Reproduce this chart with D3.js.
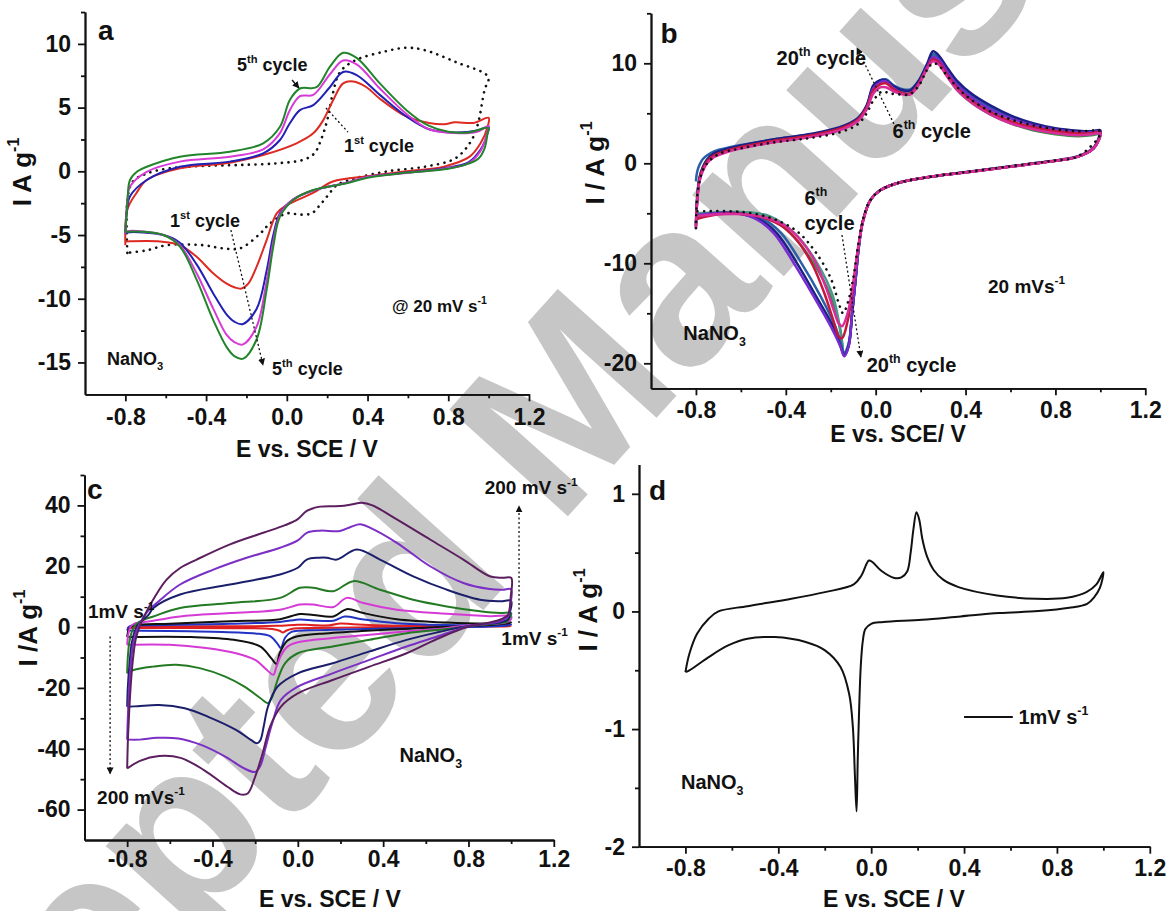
<!DOCTYPE html>
<html lang="en">
<head>
<meta charset="utf-8">
<title>CV NaNO3</title>
<script src="https://d3js.org/d3.v7.min.js"></script>
<style>
  body { margin: 0; background: #fff; }
  svg { display: block; font-family: "Liberation Sans", Arial, Helvetica, sans-serif; font-weight: bold; }
</style>
</head>
<body>
<svg id="fig" width="1167" height="911"></svg>
<script>
// ---------- data: [E (V vs SCE), I (A/g)] ----------

// panel a, cycles 1..5 at 20 mV/s
const a_cycle1 = [[-0.79,-6.4],[-0.79,-2.25],[-0.763,-0.8],[-0.69,-0.15],[-0.58,0.24],[-0.415,0.42],[-0.23,0.5],[-0.048,0.63],[0.08,0.9],[0.136,1.4],[0.17,2.5],[0.2,4.0],[0.228,6.1],[0.264,7.8],[0.338,8.7],[0.484,9.4],[0.594,9.7],[0.686,9.5],[0.833,8.6],[0.998,7.4],[0.98,6.4],[0.943,3.5],[0.906,2.2],[0.833,1.0],[0.686,0.37],[0.5,0.0],[0.338,-0.55],[0.247,-1.1],[0.205,-1.86],[0.164,-2.65],[0.123,-3.3],[0.065,-3.4],[0.0,-3.3],[-0.084,-4.1],[-0.133,-4.9],[-0.232,-6.05],[-0.315,-6.05],[-0.415,-5.8],[-0.595,-5.8],[-0.694,-6.2],[-0.79,-6.4]];
const a_cycle2 = [[-0.8,-5.8],[-0.79,-3.0],[-0.745,-1.7],[-0.694,-0.68],[-0.53,0.23],[-0.282,0.68],[-0.117,1.28],[0.048,2.2],[0.131,2.98],[0.18,4.0],[0.23,5.6],[0.279,6.9],[0.329,7.05],[0.395,6.6],[0.461,5.7],[0.593,4.3],[0.705,3.8],[0.78,3.7],[0.833,3.85],[0.925,3.8],[1.0,4.2],[0.995,3.5],[0.96,2.2],[0.906,1.15],[0.778,0.37],[0.594,0.0],[0.411,-0.37],[0.228,-0.8],[0.13,-1.7],[0.0,-2.65],[-0.05,-3.3],[-0.1,-5.4],[-0.15,-7.5],[-0.19,-8.8],[-0.224,-9.2],[-0.26,-9.1],[-0.3,-8.8],[-0.365,-8.0],[-0.447,-6.7],[-0.53,-5.8],[-0.629,-5.5],[-0.8,-5.5]];
const a_cycle3 = [[-0.8,-4.9],[-0.79,-2.8],[-0.777,-1.96],[-0.694,-0.68],[-0.53,0.36],[-0.282,0.76],[-0.117,1.41],[-0.034,2.46],[0.015,3.77],[0.065,4.8],[0.131,5.2],[0.213,6.6],[0.279,7.8],[0.346,7.55],[0.461,6.0],[0.593,4.3],[0.705,3.3],[0.833,3.05],[0.943,3.2],[1.0,3.5],[0.995,3.0],[0.96,1.7],[0.9,0.7],[0.778,0.25],[0.594,-0.1],[0.4,-0.45],[0.296,-0.9],[0.13,-1.5],[0.032,-2.2],[-0.034,-3.3],[-0.067,-5.0],[-0.1,-7.8],[-0.15,-10.8],[-0.22,-12.0],[-0.26,-11.8],[-0.3,-11.2],[-0.364,-9.6],[-0.447,-7.3],[-0.53,-5.6],[-0.612,-5.0],[-0.79,-4.8],[-0.8,-4.9]];
const a_cycle4 = [[-0.8,-4.9],[-0.79,-2.25],[-0.777,-1.2],[-0.694,-0.04],[-0.53,0.76],[-0.282,1.15],[-0.117,1.73],[-0.034,3.0],[0.015,4.8],[0.065,5.9],[0.131,6.0],[0.213,7.6],[0.279,8.7],[0.346,8.4],[0.461,6.5],[0.593,4.5],[0.705,3.3],[0.833,3.0],[0.943,3.1],[1.0,3.55],[0.995,3.1],[0.96,1.6],[0.9,0.63],[0.778,0.2],[0.594,-0.13],[0.4,-0.45],[0.296,-0.9],[0.13,-1.5],[0.032,-2.2],[-0.034,-3.4],[-0.067,-5.5],[-0.1,-8.6],[-0.15,-12.2],[-0.22,-13.6],[-0.26,-13.4],[-0.3,-12.8],[-0.364,-10.8],[-0.447,-8.0],[-0.53,-5.8],[-0.612,-5.0],[-0.79,-4.7],[-0.8,-4.8]];
const a_cycle5 = [[-0.8,-4.8],[-0.79,-2.5],[-0.777,-0.68],[-0.74,0.0],[-0.694,0.36],[-0.53,1.15],[-0.282,1.54],[-0.117,2.2],[-0.034,3.5],[0.015,5.6],[0.065,6.5],[0.147,6.6],[0.213,8.2],[0.279,9.3],[0.346,8.9],[0.461,6.9],[0.593,4.8],[0.7,3.6],[0.8,3.1],[0.9,3.05],[1.0,3.4],[0.995,3.0],[0.98,1.8],[0.95,1.0],[0.9,0.6],[0.8,0.2],[0.6,-0.1],[0.4,-0.5],[0.296,-0.94],[0.13,-1.47],[0.032,-2.25],[-0.034,-3.56],[-0.067,-5.9],[-0.1,-9.3],[-0.15,-13.2],[-0.216,-14.7],[-0.26,-14.5],[-0.298,-13.8],[-0.364,-11.7],[-0.447,-8.5],[-0.53,-5.9],[-0.612,-5.0],[-0.79,-4.74],[-0.8,-4.8]];

// panel b, cycles 6..20 at 20 mV/s
const b_cycle6 = [[-0.8,-6.5],[-0.795,-4.0],[-0.785,-1.9],[-0.77,-0.8],[-0.75,0.0],[-0.72,0.6],[-0.65,1.2],[-0.55,1.7],[-0.45,2.1],[-0.3,2.6],[-0.16,3.3],[-0.08,4.2],[-0.04,5.4],[-0.01,7.0],[0.02,7.6],[0.045,7.6],[0.08,7.2],[0.12,6.9],[0.155,6.9],[0.19,7.8],[0.23,9.5],[0.255,10.2],[0.28,9.9],[0.32,8.6],[0.36,7.4],[0.43,6.0],[0.51,4.9],[0.6,4.0],[0.7,3.4],[0.8,3.0],[0.9,2.8],[0.96,2.9],[1.0,3.0],[0.995,2.4],[0.97,1.5],[0.9,0.65],[0.77,0.15],[0.6,-0.35],[0.43,-0.85],[0.29,-1.2],[0.11,-1.9],[0.02,-2.7],[-0.024,-3.7],[-0.056,-5.8],[-0.08,-8.8],[-0.1,-12.0],[-0.125,-15.0],[-0.15,-16.3],[-0.165,-16.0],[-0.185,-14.8],[-0.22,-12.5],[-0.27,-9.8],[-0.33,-7.8],[-0.4,-6.3],[-0.48,-5.5],[-0.58,-5.1],[-0.7,-5.1],[-0.8,-5.3]];
const b_cycle8 = [[-0.8,-6.3],[-0.795,-3.8],[-0.785,-1.7],[-0.77,-0.6],[-0.75,0.2],[-0.72,0.8],[-0.65,1.35],[-0.55,1.85],[-0.45,2.25],[-0.3,2.75],[-0.16,3.45],[-0.08,4.35],[-0.04,5.6],[-0.01,7.3],[0.02,7.9],[0.045,8.0],[0.08,7.4],[0.12,7.0],[0.155,7.0],[0.19,7.9],[0.23,9.6],[0.255,10.4],[0.28,10.1],[0.32,8.8],[0.36,7.6],[0.43,6.2],[0.51,5.1],[0.6,4.2],[0.7,3.6],[0.8,3.2],[0.9,3.0],[0.96,3.0],[1.0,3.1],[0.995,2.5],[0.97,1.5],[0.9,0.67],[0.77,0.17],[0.6,-0.33],[0.43,-0.83],[0.29,-1.2],[0.11,-1.9],[0.02,-2.7],[-0.024,-3.7],[-0.056,-5.7],[-0.08,-8.7],[-0.1,-12.2],[-0.125,-15.8],[-0.15,-17.5],[-0.165,-17.3],[-0.19,-15.6],[-0.23,-12.9],[-0.28,-10.2],[-0.34,-8.0],[-0.41,-6.4],[-0.49,-5.5],[-0.58,-5.1],[-0.7,-5.1],[-0.8,-5.6]];
const b_cycle11 = [[-0.8,-6.2],[-0.795,-3.7],[-0.785,-1.6],[-0.77,-0.5],[-0.75,0.3],[-0.72,0.9],[-0.65,1.4],[-0.55,1.9],[-0.45,2.3],[-0.3,2.8],[-0.16,3.5],[-0.08,4.4],[-0.04,5.7],[-0.01,7.7],[0.02,8.2],[0.045,8.2],[0.08,7.6],[0.12,7.2],[0.155,7.2],[0.19,8.0],[0.23,9.7],[0.255,10.7],[0.28,10.4],[0.32,9.0],[0.36,7.7],[0.43,6.3],[0.51,5.2],[0.6,4.2],[0.7,3.5],[0.8,3.05],[0.9,2.85],[0.96,2.9],[1.0,3.0],[0.995,2.5],[0.97,1.5],[0.9,0.67],[0.77,0.17],[0.6,-0.33],[0.43,-0.83],[0.29,-1.2],[0.11,-1.9],[0.02,-2.7],[-0.024,-3.7],[-0.056,-5.7],[-0.075,-8.3],[-0.09,-11.7],[-0.105,-15.0],[-0.12,-18.0],[-0.14,-19.0],[-0.155,-17.0],[-0.19,-13.3],[-0.26,-10.0],[-0.36,-7.0],[-0.47,-5.3],[-0.58,-4.9],[-0.7,-4.9],[-0.8,-5.0]];
const b_cycle14 = [[-0.8,-6.4],[-0.795,-3.9],[-0.785,-1.8],[-0.77,-0.7],[-0.75,0.1],[-0.72,0.7],[-0.65,1.3],[-0.55,1.8],[-0.45,2.2],[-0.3,2.7],[-0.16,3.4],[-0.08,4.3],[-0.04,5.6],[-0.01,7.6],[0.02,8.2],[0.045,8.3],[0.08,7.6],[0.12,7.1],[0.155,7.1],[0.19,7.9],[0.23,9.6],[0.255,10.5],[0.28,10.2],[0.32,8.7],[0.36,7.4],[0.43,6.0],[0.51,4.9],[0.6,4.0],[0.7,3.3],[0.8,2.9],[0.9,2.7],[0.96,2.8],[1.0,2.9],[0.995,2.4],[0.97,1.5],[0.9,0.67],[0.77,0.17],[0.6,-0.33],[0.43,-0.83],[0.29,-1.2],[0.11,-1.9],[0.02,-2.7],[-0.024,-3.7],[-0.056,-5.7],[-0.075,-8.3],[-0.09,-11.7],[-0.105,-15.0],[-0.12,-18.2],[-0.14,-19.2],[-0.157,-16.7],[-0.2,-13.3],[-0.276,-10.0],[-0.379,-7.0],[-0.483,-5.3],[-0.58,-4.9],[-0.7,-5.0],[-0.8,-5.5]];
const b_cycle17 = [[-0.8,-1.8],[-0.795,-0.9],[-0.785,-0.2],[-0.77,0.4],[-0.75,0.8],[-0.72,1.2],[-0.65,1.6],[-0.55,2.0],[-0.45,2.4],[-0.3,2.85],[-0.16,3.5],[-0.08,4.4],[-0.04,5.7],[-0.01,7.7],[0.02,8.3],[0.045,8.4],[0.08,7.8],[0.12,7.4],[0.155,7.4],[0.19,8.2],[0.23,9.9],[0.255,10.9],[0.28,10.6],[0.32,9.3],[0.36,8.1],[0.43,6.7],[0.51,5.6],[0.6,4.6],[0.7,3.9],[0.8,3.4],[0.9,3.15],[0.96,3.1],[1.0,3.2],[0.995,2.6],[0.97,1.5],[0.9,0.67],[0.77,0.17],[0.6,-0.33],[0.43,-0.83],[0.29,-1.2],[0.11,-1.9],[0.02,-2.7],[-0.024,-3.7],[-0.056,-5.7],[-0.075,-8.3],[-0.09,-11.7],[-0.105,-15.0],[-0.12,-18.0],[-0.14,-19.0],[-0.155,-18.0],[-0.18,-16.3],[-0.245,-13.3],[-0.33,-10.0],[-0.42,-7.0],[-0.5,-5.6],[-0.6,-5.0],[-0.72,-5.0],[-0.8,-5.2]];
const b_cycle19 = [[-0.8,-6.5],[-0.795,-4.0],[-0.785,-1.8],[-0.77,-0.7],[-0.75,0.1],[-0.72,0.7],[-0.65,1.3],[-0.55,1.8],[-0.45,2.2],[-0.3,2.7],[-0.16,3.4],[-0.08,4.3],[-0.04,5.6],[-0.01,7.5],[0.02,8.1],[0.045,8.2],[0.08,7.5],[0.12,7.0],[0.155,7.0],[0.19,7.9],[0.23,9.7],[0.255,10.6],[0.28,10.4],[0.32,9.1],[0.36,7.9],[0.43,6.5],[0.51,5.4],[0.6,4.5],[0.7,3.8],[0.8,3.35],[0.9,3.1],[0.96,3.1],[1.0,3.2],[0.995,2.6],[0.97,1.5],[0.9,0.67],[0.77,0.17],[0.6,-0.33],[0.43,-0.83],[0.29,-1.2],[0.11,-1.9],[0.02,-2.7],[-0.024,-3.7],[-0.056,-5.7],[-0.075,-8.3],[-0.09,-11.7],[-0.105,-15.0],[-0.12,-18.3],[-0.14,-19.3],[-0.157,-18.3],[-0.2,-16.3],[-0.276,-13.3],[-0.364,-10.0],[-0.453,-7.0],[-0.53,-5.6],[-0.62,-5.0],[-0.72,-5.0],[-0.8,-5.2]];
const b_cycle20 = [[-0.8,-6.0],[-0.795,-3.5],[-0.785,-1.5],[-0.77,-0.4],[-0.75,0.4],[-0.72,1.0],[-0.65,1.5],[-0.55,2.0],[-0.45,2.4],[-0.3,2.9],[-0.16,3.6],[-0.08,4.5],[-0.04,5.8],[-0.01,7.8],[0.02,8.3],[0.045,8.3],[0.08,7.7],[0.12,7.3],[0.155,7.3],[0.19,8.2],[0.23,10.0],[0.255,11.2],[0.28,10.8],[0.32,9.5],[0.36,8.3],[0.43,6.9],[0.51,5.8],[0.6,4.8],[0.7,4.0],[0.8,3.5],[0.9,3.25],[0.96,3.2],[1.0,3.3],[0.995,2.7],[0.97,1.6],[0.9,0.7],[0.77,0.2],[0.6,-0.3],[0.43,-0.8],[0.29,-1.2],[0.11,-1.9],[0.02,-2.7],[-0.024,-3.7],[-0.056,-5.7],[-0.075,-8.3],[-0.09,-11.7],[-0.105,-15.0],[-0.12,-18.2],[-0.14,-19.2],[-0.155,-18.4],[-0.19,-16.3],[-0.265,-13.3],[-0.35,-10.0],[-0.44,-7.0],[-0.52,-5.6],[-0.62,-5.0],[-0.72,-5.0],[-0.8,-5.4]];
const b_cycle5 = [[-0.8,-6.5],[-0.79,-2.5],[-0.76,-0.3],[-0.7,0.9],[-0.6,1.5],[-0.45,2.1],[-0.3,2.5],[-0.16,3.1],[-0.08,3.9],[-0.04,5.0],[-0.01,6.3],[0.03,7.2],[0.06,7.0],[0.1,6.9],[0.15,6.9],[0.19,7.7],[0.23,9.4],[0.255,10.0],[0.28,9.8],[0.32,8.7],[0.4,6.8],[0.5,5.3],[0.6,4.4],[0.7,3.8],[0.8,3.4],[0.9,3.2],[1.0,3.2],[0.995,2.7],[0.9,0.7],[0.77,0.2],[0.6,-0.3],[0.43,-0.8],[0.29,-1.2],[0.11,-1.9],[0.02,-2.7],[-0.03,-3.9],[-0.06,-6.0],[-0.08,-8.5],[-0.1,-11.5],[-0.125,-14.0],[-0.145,-15.0],[-0.16,-14.3],[-0.2,-11.5],[-0.27,-8.8],[-0.35,-6.8],[-0.45,-5.6],[-0.55,-5.0],[-0.65,-4.8],[-0.8,-4.8]];

// panel c, scan rates 1..200 mV/s
const c_rate1 = [[-0.8,-0.3],[-0.78,0.1],[-0.5,0.25],[-0.1,0.4],[0.0,0.8],[0.06,0.7],[0.15,0.6],[0.2,1.2],[0.26,0.9],[0.4,0.5],[0.7,0.35],[1.0,0.4],[0.99,0.3],[0.8,0.2],[0.4,0.0],[0.1,-0.3],[-0.03,-0.6],[-0.055,-1.2],[-0.07,-1.8],[-0.085,-1.2],[-0.12,-0.6],[-0.3,-0.4],[-0.8,-0.3]];
const c_rate2 = [[-0.8,-1.1],[-0.79,0.2],[-0.7,0.6],[-0.318,1.1],[-0.083,1.7],[0.01,2.5],[0.073,2.2],[0.167,2.1],[0.22,3.5],[0.3,2.6],[0.464,1.3],[0.698,0.7],[0.9,0.6],[1.0,0.9],[0.99,0.6],[0.9,0.2],[0.7,-0.1],[0.4,-0.5],[0.1,-1.0],[-0.03,-1.6],[-0.06,-3.5],[-0.08,-6.9],[-0.095,-5.5],[-0.13,-3.0],[-0.2,-2.1],[-0.4,-1.5],[-0.8,-1.1]];
const c_rate5 = [[-0.8,-3.3],[-0.79,-0.5],[-0.77,0.5],[-0.6,1.1],[-0.318,1.9],[-0.083,2.6],[0.01,4.3],[0.073,4.0],[0.167,3.5],[0.229,5.9],[0.307,4.6],[0.464,2.6],[0.698,1.5],[0.9,1.2],[1.0,1.6],[0.99,1.3],[0.9,0.7],[0.7,0.1],[0.5,-0.6],[0.3,-1.3],[0.1,-2.2],[0.0,-3.0],[-0.05,-4.5],[-0.085,-8.6],[-0.1,-12.1],[-0.125,-10.2],[-0.175,-6.4],[-0.3,-4.2],[-0.5,-3.3],[-0.8,-3.3]];
const c_rate10 = [[-0.8,-5.8],[-0.795,-2.5],[-0.785,0.0],[-0.77,1.0],[-0.7,1.8],[-0.552,3.5],[-0.318,4.6],[-0.083,5.7],[0.01,7.4],[0.073,7.4],[0.167,6.6],[0.229,9.6],[0.307,7.9],[0.464,5.7],[0.698,4.4],[0.9,3.6],[1.0,3.5],[0.995,2.2],[0.97,1.4],[0.9,1.0],[0.8,0.6],[0.7,-0.3],[0.51,-1.4],[0.336,-2.5],[0.163,-3.6],[0.0,-5.0],[-0.05,-6.5],[-0.08,-9.5],[-0.1,-13.0],[-0.115,-15.7],[-0.145,-14.1],[-0.2,-10.8],[-0.29,-8.6],[-0.43,-6.9],[-0.6,-5.8],[-0.8,-5.8]];
const c_rate20 = [[-0.8,-15.2],[-0.797,-10],[-0.79,-5],[-0.778,-1.5],[-0.76,0.8],[-0.72,2.5],[-0.677,3.5],[-0.552,6.3],[-0.318,7.9],[-0.083,9.6],[0.01,12.9],[0.073,12.9],[0.167,11.8],[0.26,15.1],[0.385,12.3],[0.541,9.0],[0.698,6.8],[0.854,5.2],[0.95,4.6],[1.0,4.6],[0.995,3.2],[0.98,1.8],[0.93,1.2],[0.85,0.7],[0.7,-0.6],[0.51,-2.0],[0.336,-4.2],[0.163,-6.4],[0.0,-8.6],[-0.06,-11.9],[-0.095,-17.4],[-0.12,-22.9],[-0.14,-25.0],[-0.175,-23.4],[-0.25,-19.6],[-0.34,-16.3],[-0.46,-13.5],[-0.57,-12.4],[-0.68,-13],[-0.77,-14.1],[-0.8,-15.2]];
const c_rate50 = [[-0.8,-26.2],[-0.797,-20],[-0.79,-13],[-0.78,-6],[-0.765,-1.5],[-0.74,1.5],[-0.7,4],[-0.677,6.3],[-0.552,10.7],[-0.318,14.0],[-0.083,17.3],[0.0,19.5],[0.042,22.2],[0.1,22.8],[0.136,22.8],[0.183,22.2],[0.276,25.5],[0.385,22.2],[0.541,16.7],[0.698,12.3],[0.854,9.0],[0.95,8.5],[1.0,8.6],[0.995,5],[0.985,2.5],[0.95,1.6],[0.85,0.8],[0.8,0.4],[0.65,-1.8],[0.51,-4.2],[0.336,-8.0],[0.163,-11.9],[0.0,-15.2],[-0.095,-19.6],[-0.14,-26.2],[-0.16,-32.7],[-0.175,-37.1],[-0.19,-38.2],[-0.22,-37.1],[-0.29,-33.8],[-0.42,-29.5],[-0.53,-26.7],[-0.65,-25.6],[-0.75,-26],[-0.8,-26.2]];
const c_rate100 = [[-0.8,-37],[-0.797,-30],[-0.792,-22],[-0.785,-14],[-0.773,-6],[-0.755,-1],[-0.73,2.5],[-0.7,5.5],[-0.662,7.9],[-0.552,14.0],[-0.396,18.9],[-0.24,22.8],[-0.083,26.1],[0.0,28.5],[0.042,31.0],[0.104,31.7],[0.198,31.6],[0.25,33],[0.292,33.8],[0.34,32.6],[0.464,27.7],[0.62,20.0],[0.776,14.5],[0.9,12.5],[0.96,12.3],[1.0,12.4],[0.995,7],[0.985,3.5],[0.95,2.0],[0.85,0.8],[0.8,0.3],[0.65,-3.2],[0.51,-6.4],[0.336,-10.8],[0.163,-15.2],[0.0,-19.6],[-0.08,-24.0],[-0.12,-31.6],[-0.15,-39.3],[-0.175,-45.5],[-0.2,-47.6],[-0.25,-46.5],[-0.34,-42.6],[-0.45,-38.8],[-0.56,-36.6],[-0.66,-36.4],[-0.74,-37],[-0.8,-37]];
const c_rate200 = [[-0.8,-46.5],[-0.797,-38],[-0.792,-30],[-0.785,-21],[-0.775,-12],[-0.76,-4],[-0.74,0.5],[-0.71,5],[-0.67,10],[-0.615,15.6],[-0.55,19.5],[-0.474,22.2],[-0.318,27.2],[-0.162,31.0],[-0.06,33.5],[0.0,35.5],[0.042,38.2],[0.104,39.6],[0.2,39.8],[0.25,40.3],[0.3,40.9],[0.35,40.0],[0.464,35.4],[0.62,28.8],[0.776,22.2],[0.9,16.7],[0.96,16.2],[1.0,16.2],[0.998,10],[0.985,4],[0.95,2.5],[0.85,0.8],[0.8,0.2],[0.65,-4],[0.51,-8.6],[0.336,-13.0],[0.163,-17.4],[0.0,-21.8],[-0.08,-26.2],[-0.13,-32.7],[-0.165,-41.5],[-0.2,-49.2],[-0.235,-54.7],[-0.27,-55],[-0.33,-52.5],[-0.44,-47],[-0.55,-43],[-0.65,-42.4],[-0.74,-44],[-0.8,-46.5]];

// panel d, 1 mV/s
const d_rate1 = [[-0.8,-0.516],[-0.783,-0.36],[-0.75,-0.19],[-0.7,-0.062],[-0.658,0.0],[-0.533,0.045],[-0.366,0.1],[-0.199,0.164],[-0.075,0.23],[-0.042,0.306],[-0.01,0.433],[0.005,0.42],[0.042,0.348],[0.1,0.285],[0.13,0.29],[0.155,0.34],[0.17,0.5],[0.182,0.7],[0.195,0.844],[0.207,0.78],[0.22,0.62],[0.24,0.47],[0.27,0.35],[0.31,0.27],[0.376,0.207],[0.542,0.136],[0.71,0.108],[0.843,0.116],[0.927,0.164],[0.97,0.23],[1.0,0.334],[0.985,0.2],[0.96,0.12],[0.93,0.065],[0.853,0.031],[0.72,0.003],[0.552,-0.014],[0.386,-0.042],[0.219,-0.071],[0.052,-0.09],[0.0,-0.105],[-0.025,-0.15],[-0.036,-0.25],[-0.045,-0.47],[-0.052,-0.84],[-0.058,-1.27],[-0.063,-1.7],[-0.07,-1.4],[-0.079,-0.98],[-0.095,-0.7],[-0.132,-0.473],[-0.199,-0.331],[-0.282,-0.26],[-0.416,-0.218],[-0.533,-0.232],[-0.616,-0.289],[-0.7,-0.388],[-0.783,-0.501],[-0.8,-0.516]];

// ticks
const xMajor = [-0.8, -0.4, 0, 0.4, 0.8, 1.2];
const xMinor = [-0.6, -0.2, 0.2, 0.6, 1.0];

// ---------- layout ----------
const panels = [
  { id: "a", x0: 85, x1: 529, yTop: 12.05, yBot: 394.3, yDom: [-17.5, 12.5],
    yMajor: [-15, -10, -5, 0, 5, 10], yMinor: [-12.5, -7.5, -2.5, 2.5, 7.5, 12.5], pad: 7, lw: 2,
    xTitle: { x: 307, y: 457, text: [["E vs. SCE / V"]] },
    yTitle: { x: 31, y: 172, text: [["I A g"], ["-1", "sup"]] },
    curves: [
      { data: a_cycle1, color: "#111", dots: true },
      { data: a_cycle2, color: "#dd2a22" },
      { data: a_cycle3, color: "#2020b4" },
      { data: a_cycle4, color: "#d83ad8" },
      { data: a_cycle5, color: "#23852b" }
    ],
    notes: [
      { E: -0.936, I: 10.3, size: 28, parts: [["a"]] },
      { E: -0.247, I: 7.86, size: 18, parts: [["5"], ["th", "sup"], [" cycle"]] },
      { E: 0.283, I: 1.52, size: 18, parts: [["1"], ["st", "sup"], [" cycle"]] },
      { E: -0.579, I: -4.37, size: 18, parts: [["1"], ["st", "sup"], [" cycle"]] },
      { E: -0.073, I: -15.99, size: 18, parts: [["5"], ["th", "sup"], [" cycle"]] },
      { E: 0.521, I: -11.04, size: 17, parts: [["@ 20 mV s"], ["-1", "sup"]] },
      { E: -0.891, I: -15.2, size: 18, parts: [["NaNO"], ["3", "sub"]] }
    ],
    arrows: [
      { from: [0.026, 7.17], to: [0.06, 6.54], dotted: false, head: true },
      { from: [0.194, 4.97], to: [0.303, 3.08], dotted: true, head: false },
      { from: [-0.277, -4.61], to: [-0.118, -15.2], dotted: true, head: true }
    ] },
  { id: "b", x0: 651, x1: 1145.3, yTop: 13.3, yBot: 388.3, yDom: [-22.5, 15],
    yMajor: [-20, -10, 0, 10], yMinor: [-15, -5, 5, 15], pad: 6, lw: 2.5,
    xTitle: { x: 898, y: 442, text: [["E vs. SCE/ V"]] },
    yTitle: { x: 604, y: 163, text: [["I / A g"], ["-1", "sup"]] },
    curves: [
      { data: b_cycle14, color: "#3d8a45" },
      { data: b_cycle11, color: "#4a9a8c" },
      { data: b_cycle17, color: "#2a5fa6" },
      { data: b_cycle20, color: "#1c1f86" },
      { data: b_cycle19, color: "#7a2bd0" },
      { data: b_cycle8, color: "#c4173c" },
      { data: b_cycle6, color: "#d82c9a" },
      { data: b_cycle5, color: "#111", dots: true }
    ],
    notes: [
      { E: -0.958, I: 12.06, size: 28, parts: [["b"]] },
      { E: -0.441, I: 9.83, size: 20, parts: [["20"], ["th", "sup"], [" cycle"]] },
      { E: 0.075, I: 2.53, size: 20, parts: [["6"], ["th", "sup"], [" cycle"]] },
      { E: -0.317, I: -4.17, size: 20, parts: [["6"], ["th", "sup"]] },
      { E: -0.317, I: -6.67, size: 20, parts: [["cycle"]] },
      { E: -0.04, I: -20.84, size: 20, parts: [["20"], ["th", "sup"], [" cycle"]] },
      { E: 0.5, I: -12.97, size: 19, parts: [["20 mVs"], ["-1", "sup"]] },
      { E: -0.856, I: -17.67, size: 20, parts: [["NaNO"], ["3", "sub"]] }
    ],
    arrows: [
      { from: [0.09, 3.53], to: [-0.083, 11.53], dotted: true, head: true },
      { from: [-0.15, -7.17], to: [-0.066, -19.37], dotted: true, head: true }
    ] },
  { id: "c", x0: 84.5, x1: 553.8, yTop: 475, yBot: 840, yDom: [-70, 50],
    yMajor: [-60, -40, -20, 0, 20, 40], yMinor: [-50, -30, -10, 10, 30, 50], pad: 4, lw: 2,
    xTitle: { x: 330, y: 907, text: [["E vs. SCE / V"]] },
    yTitle: { x: 37, y: 628, text: [["I /A g"], ["-1", "sup"]] },
    curves: [
      { data: c_rate1, color: "#e02020" },
      { data: c_rate2, color: "#2233c4" },
      { data: c_rate5, color: "#111" },
      { data: c_rate10, color: "#d63ad6" },
      { data: c_rate20, color: "#237a23" },
      { data: c_rate50, color: "#1b1f6b" },
      { data: c_rate100, color: "#7b2fc4" },
      { data: c_rate200, color: "#5b1f5f" }
    ],
    notes: [
      { E: -0.988, I: 42.05, size: 28, parts: [["c"]] },
      { E: 0.876, I: 43.7, size: 19, parts: [["200 mV s"], ["-1", "sup"]] },
      { E: 0.954, I: -5.85, size: 19, parts: [["1mV s"], ["-1", "sup"]] },
      { E: -0.984, I: 2.97, size: 19, parts: [["1mV s"], ["-1", "sup"]] },
      { E: -0.941, I: -58.1, size: 19, parts: [["200 mVs"], ["-1", "sup"]] },
      { E: 0.477, I: -44.4, size: 20, parts: [["NaNO"], ["3", "sub"]] }
    ],
    arrows: [
      { from: [1.037, 1.32], to: [1.037, 39.8], dotted: true, head: true },
      { from: [-0.88, -3.1], to: [-0.88, -48.2], dotted: true, head: true }
    ] },
  { id: "d", x0: 639, x1: 1149.8, yTop: 464.4, yBot: 846.7, yDom: [-2, 1.25],
    yMajor: [-2, -1, 0, 1], yMinor: [-1.5, -0.5, 0.5], pad: 6, lw: 2,
    xTitle: { x: 894, y: 907, text: [["E vs. SCE / V"]] },
    yTitle: { x: 597, y: 610, text: [["I / A g"], ["-1", "sup"]] },
    curves: [
      { data: d_rate1, color: "#111" }
    ],
    notes: [
      { E: -0.957, I: 0.95, size: 28, parts: [["d"]] },
      { E: 0.634, I: -0.954, size: 20, parts: [["1mV s"], ["-1", "sup"]] },
      { E: -0.819, I: -1.506, size: 20, parts: [["NaNO"], ["3", "sub"]] }
    ],
    legend: { from: [0.4, -0.898], to: [0.61, -0.898] },
    arrows: [] }
];

// ---------- drawing ----------
const svg = d3.select("#fig");

svg.append("rect").attr("width", 1167).attr("height", 911).attr("fill", "#fff");

// watermark of the source page, drawn behind the plots
const wm = svg.append("g")
  .attr("transform", "translate(560,400) rotate(-48)");
wm.append("text")
  .attr("x", -5.196 * 232)
  .attr("y", 0.36 * 232)
  .attr("font-size", 232)
  .attr("fill", "#c6c6c6")
  .text("Accepted Manuscript");

svg.append("defs").append("marker")
  .attr("id", "head")
  .attr("viewBox", "0 0 10 10")
  .attr("refX", 9).attr("refY", 5)
  .attr("markerWidth", 7).attr("markerHeight", 7)
  .attr("markerUnits", "userSpaceOnUse")
  .attr("orient", "auto")
  .append("path").attr("d", "M0,0 L10,5 L0,10 z").attr("fill", "#111");

function rich(g, parts, size) {
  const t = g.append("text").attr("font-size", size).attr("fill", "#111");
  let shift = 0;
  parts.forEach(([s, kind]) => {
    const target = kind === "sup" ? -0.45 * size : kind === "sub" ? 0.3 * size : 0;
    t.append("tspan")
      .attr("dy", target - shift)
      .attr("font-size", kind ? size * 0.62 : size)
      .text(s);
    shift = target;
  });
  return t;
}

function styleAxis(sel, size) {
  sel.attr("font-family", null).attr("font-size", size).attr("font-weight", "bold");
  sel.selectAll("path, line").attr("stroke", "#111").attr("stroke-width", 1.8);
  sel.selectAll("text").attr("fill", "#111");
}

panels.forEach(p => {
  const x = d3.scaleLinear().domain([-1, 1.2]).range([p.x0, p.x1]);
  const y = d3.scaleLinear().domain(p.yDom).range([p.yBot, p.yTop]);
  const g = svg.append("g");

  // axes
  g.append("g").attr("transform", `translate(0,${p.yBot})`)
    .call(d3.axisBottom(x).tickValues(xMinor).tickSize(4).tickSizeOuter(0).tickFormat(() => ""))
    .call(s => styleAxis(s, 23));
  g.append("g").attr("transform", `translate(0,${p.yBot})`)
    .call(d3.axisBottom(x).tickValues(xMajor).tickSize(7).tickPadding(p.pad).tickSizeOuter(0)
      .tickFormat(d => d.toFixed(1)))
    .call(s => styleAxis(s, 23));
  g.append("g").attr("transform", `translate(${p.x0},0)`)
    .call(d3.axisLeft(y).tickValues(p.yMinor).tickSize(4).tickSizeOuter(0).tickFormat(() => ""))
    .call(s => styleAxis(s, 23));
  g.append("g").attr("transform", `translate(${p.x0},0)`)
    .call(d3.axisLeft(y).tickValues(p.yMajor).tickSize(7).tickPadding(7).tickSizeOuter(0)
      .tickFormat(d => String(d)))
    .call(s => styleAxis(s, 23));

  // titles
  rich(g, p.xTitle.text, 23).attr("text-anchor", "middle")
    .attr("transform", `translate(${p.xTitle.x},${p.xTitle.y})`);
  rich(g, p.yTitle.text, 26).attr("text-anchor", "middle")
    .attr("transform", `translate(${p.yTitle.x},${p.yTitle.y}) rotate(-90)`);

  // curves
  const line = d3.line()
    .x(d => x(d[0])).y(d => y(d[1]))
    .curve(d3.curveCatmullRom.alpha(0.5));
  p.curves.forEach(c => {
    const path = g.append("path")
      .attr("d", line(c.data))
      .attr("fill", "none")
      .attr("stroke", c.color)
      .attr("stroke-linejoin", "round");
    if (c.dots) {
      path.attr("stroke-width", 2.6).attr("stroke-linecap", "round").attr("stroke-dasharray", "0.1,6.5");
    } else {
      path.attr("stroke-width", p.lw);
    }
  });

  // legend (panel d)
  if (p.legend) {
    g.append("line")
      .attr("x1", x(p.legend.from[0])).attr("y1", y(p.legend.from[1]))
      .attr("x2", x(p.legend.to[0])).attr("y2", y(p.legend.to[1]))
      .attr("stroke", "#111").attr("stroke-width", 2);
  }

  // arrows
  p.arrows.forEach(a => {
    const l = g.append("line")
      .attr("x1", x(a.from[0])).attr("y1", y(a.from[1]))
      .attr("x2", x(a.to[0])).attr("y2", y(a.to[1]))
      .attr("stroke", "#111").attr("stroke-width", 1.3);
    if (a.dotted) l.attr("stroke-dasharray", "2,2.5");
    if (a.head) l.attr("marker-end", "url(#head)");
  });

  // text notes
  p.notes.forEach(n => {
    rich(g, n.parts, n.size).attr("transform", `translate(${x(n.E)},${y(n.I)})`);
  });
});
</script>
</body>
</html>
